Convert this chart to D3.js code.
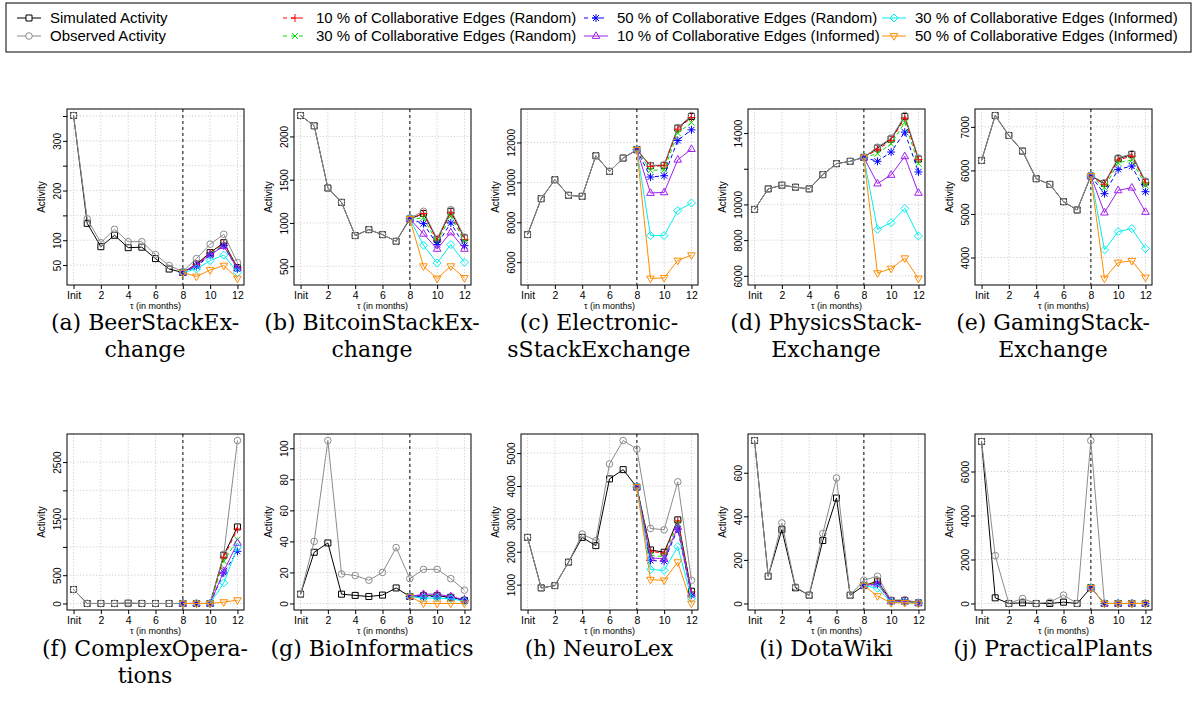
<!DOCTYPE html>
<html>
<head>
<meta charset="utf-8">
<script src="https://cdn.jsdelivr.net/npm/d3@7"></script>
<style>
  body { margin: 0; background: #fff; }
  svg { font-family: "Liberation Sans", Arial, sans-serif; }
</style>
</head>
<body>
<svg id="chart"></svg>
<script>
// ---- data ----
const captions = [
  ["(a) BeerStackEx-", "change"],
  ["(b) BitcoinStackEx-", "change"],
  ["(c) Electronic-", "sStackExchange"],
  ["(d) PhysicsStack-", "Exchange"],
  ["(e) GamingStack-", "Exchange"],
  ["(f) ComplexOpera-", "tions"],
  ["(g) BioInformatics"],
  ["(h) NeuroLex"],
  ["(i) DotaWiki"],
  ["(j) PracticalPlants"]
];

const months = [0, 1, 2, 3, 4, 5, 6, 7, 8, 9, 10, 11, 12];
const scenarioMonths = [8, 9, 10, 11, 12];
const xTicks = [0, 2, 4, 6, 8, 10, 12];
const xTickLabels = ["Init", "2", "4", "6", "8", "10", "12"];
const splitMonth = 8;

const yTicks = [
  [50, 100, 150, 200, 250, 300, 350],
  [500, 1000, 1500, 2000],
  [6000, 8000, 10000, 12000],
  [6000, 8000, 10000, 12000, 14000],
  [4000, 5000, 6000, 7000],
  [0, 500, 1000, 1500, 2000, 2500],
  [0, 20, 40, 60, 80, 100],
  [1000, 2000, 3000, 4000, 5000],
  [0, 200, 400, 600],
  [0, 2000, 4000, 6000]
];
const yTickLabels = [
  [50, 100, 200, 300],
  [500, 1000, 1500, 2000],
  [6000, 8000, 10000, 12000],
  [6000, 8000, 10000, 14000],
  [4000, 5000, 6000, 7000],
  [0, 500, 1500, 2500],
  [0, 20, 40, 60, 80, 100],
  [1000, 2000, 3000, 4000, 5000],
  [0, 200, 400, 600],
  [0, 2000, 4000, 6000]
];

const simulated = [
  [351, 134, 87, 110, 85, 86, 63, 42, 35, 52, 75, 95, 45],
  [2242, 2123, 1404, 1238, 854, 923, 865, 788, 1046, 1110, 808, 1135, 827],
  [7383, 9183, 10133, 9350, 9300, 11333, 10550, 11217, 11633, 10833, 10850, 12717, 13300],
  [9720, 10873, 11078, 10966, 10873, 11673, 12287, 12417, 12640, 13161, 13663, 14928, 12547],
  [6229, 7260, 6802, 6443, 5809, 5679, 5282, 5092, 5870, 5702, 6267, 6366, 5733],
  [247, 0, 0, 0, 5, 0, 0, 0, 0, 0, 0, 853, 1353],
  [6, 33, 39, 6, 5.2, 4.5, 5.4, 10, 4.5, 5, 5, 4, 2],
  [2437, 900, 970, 1683, 2437, 2186, 4216, 4497, 3965, 2055, 1985, 2970, 799],
  [748, 125, 339, 72, 38, 289, 484, 38, 82, 102, 14, 14, 3],
  [7363, 257, 0, 30, 0, 0, 60, 0, 711, 0, 0, 0, 0]
];
const observed = [
  [351, 143, 95, 122, 97, 97, 71, 49, 37, 63, 92, 112, 55],
  [2242, 2123, 1404, 1238, 854, 923, 865, 788, 1058, 1135, 815, 1154, 838],
  [7383, 9183, 10133, 9350, 9300, 11333, 10550, 11217, 11633, 10850, 10870, 12750, 13350],
  [9720, 10873, 11078, 10966, 10873, 11673, 12287, 12417, 12640, 13210, 13720, 14984, 12600],
  [6229, 7260, 6802, 6443, 5809, 5679, 5282, 5092, 5885, 5717, 6290, 6382, 5756],
  [247, 0, 0, 0, 5, 0, 0, 0, 0, 0, 0, 870, 2881],
  [6, 40, 105, 19, 18, 15, 20, 36, 16, 22, 22, 16, 8.6],
  [2437, 900, 970, 1683, 2538, 2337, 4668, 5382, 5121, 2709, 2668, 4126, 1131],
  [748, 125, 370, 76, 38, 321, 576, 38, 107, 125, 15, 17, 3],
  [7363, 2177, 0, 227, 0, 60, 378, 0, 7409, 0, 0, 0, 0]
];
// scenario series cover months 8..12
const random10 = [
  [35, 51, 74, 94, 45],
  [1046, 1108, 800, 1115, 808],
  [11633, 10800, 10833, 12667, 13250],
  [12640, 13068, 13589, 14835, 12510],
  [5870, 5679, 6237, 6328, 5718],
  [0, 0, 0, 817, 1317],
  [4.5, 5.5, 5.5, 4.5, 2.2],
  [3965, 2015, 1955, 2940, 779],
  [82, 100, 12, 12, 2],
  [711, 0, 0, 0, 0]
];
const random30 = [
  [35, 49, 72, 91, 43],
  [1046, 1058, 777, 1077, 788],
  [11633, 10600, 10633, 12467, 13000],
  [12640, 12845, 13403, 14593, 12287],
  [5870, 5603, 6176, 6237, 5657],
  [0, 0, 0, 747, 1129],
  [4.5, 5, 5, 4, 2],
  [3965, 1884, 1854, 2859, 729],
  [82, 95, 11, 10, 2],
  [711, 0, 0, 0, 0]
];
const random50 = [
  [35, 47, 70, 89, 42],
  [1046, 992, 750, 1000, 738],
  [11633, 10267, 10333, 12100, 12633],
  [12640, 12417, 12938, 14054, 11822],
  [5870, 5466, 6023, 6099, 5511],
  [0, 0, 0, 541, 923],
  [4.5, 4.5, 4.5, 3.8, 2],
  [3965, 1734, 1714, 2688, 678],
  [82, 88, 10, 9, 2],
  [711, 0, 0, 0, 0]
];
const informed10 = [
  [35, 50, 71, 88, 43],
  [1046, 875, 700, 890, 700],
  [11633, 9467, 9500, 11133, 11667],
  [12640, 11171, 11654, 12696, 10650],
  [5870, 5031, 5542, 5603, 5046],
  [0, 0, 0, 570, 1070],
  [4.5, 6, 6, 4.5, 2.5],
  [3965, 1814, 1784, 2739, 698],
  [82, 90, 10, 9, 2],
  [711, 0, 0, 0, 0]
];
const informed30 = [
  [35, 42, 59, 70, 35],
  [1046, 742, 538, 750, 546],
  [11633, 7333, 7333, 8583, 8967],
  [12640, 8604, 8976, 9776, 8232],
  [5870, 4176, 4595, 4664, 4206],
  [0, 0, 0, 365, 994],
  [4.5, 3.5, 3.5, 3, 1.5],
  [3965, 1462, 1432, 2156, 578],
  [82, 70, 6, 5, 1],
  [711, 0, 0, 0, 0]
];
const informed50 = [
  [35, 27, 40, 49, 23],
  [1046, 500, 358, 500, 365],
  [11633, 5183, 5217, 6083, 6350],
  [12640, 6149, 6409, 6986, 5851],
  [5870, 3519, 3885, 3924, 3542],
  [0, 0, 0, 24, 59],
  [4.5, 0, 0, 0, 0],
  [3965, 1151, 1131, 1683, 427],
  [82, 34, 3, 3, 0],
  [711, 0, 0, 0, 0]
];

// series styling, in legend order
const series = [
  { name: "Simulated Activity", data: simulated, x: months, color: "#000000", shape: "square", dashed: false },
  { name: "Observed Activity", data: observed, x: months, color: "#8c8c8c", shape: "circle", dashed: false },
  { name: "10 % of Collaborative Edges (Random)", data: random10, x: scenarioMonths, color: "#ff0000", shape: "plus", dashed: true },
  { name: "30 % of Collaborative Edges (Random)", data: random30, x: scenarioMonths, color: "#00e000", shape: "cross", dashed: true },
  { name: "50 % of Collaborative Edges (Random)", data: random50, x: scenarioMonths, color: "#0000ff", shape: "star", dashed: true },
  { name: "10 % of Collaborative Edges (Informed)", data: informed10, x: scenarioMonths, color: "#a020f0", shape: "triUp", dashed: false },
  { name: "30 % of Collaborative Edges (Informed)", data: informed30, x: scenarioMonths, color: "#00f0f0", shape: "diamond", dashed: false },
  { name: "50 % of Collaborative Edges (Informed)", data: informed50, x: scenarioMonths, color: "#ff8c00", shape: "triDown", dashed: false }
];

// ---- layout ----
const W = 1195, H = 720;
const plotW = 177, plotH = 176;
const colStep = 227, firstLeft = 67;
const rowTops = [109, 434];

const svg = d3.select("#chart").attr("width", W).attr("height", H);

function markerPath(shape) {
  switch (shape) {
    case "square": return "M-3,-3H3V3H-3Z";
    case "circle": return "M-3.3,0A3.3,3.3 0 1,0 3.3,0A3.3,3.3 0 1,0 -3.3,0Z";
    case "plus": return "M-4,0H4M0,-4V4";
    case "cross": return "M-3,-3L3,3M-3,3L3,-3";
    case "star": return "M-4,0H4M0,-4V4M-3,-3L3,3M-3,3L3,-3";
    case "triUp": return "M0,-4.2L3.8,2.4H-3.8Z";
    case "triDown": return "M0,4.2L3.8,-2.4H-3.8Z";
    case "diamond": return "M0,-4L4,0L0,4L-4,0Z";
  }
}

// ---- legend ----
const legend = svg.append("g");
legend.append("rect")
  .attr("x", 6).attr("y", 3)
  .attr("width", 1185).attr("height", 49)
  .attr("fill", "none").attr("stroke", "#000").attr("stroke-width", 1);

const legendTextX = [50, 316, 617, 915];
const legendRowY = [18, 36];
series.forEach((s, i) => {
  const tx = legendTextX[Math.floor(i / 2)];
  const cx = tx - 21;
  const cy = legendRowY[i % 2];
  const g = legend.append("g");
  g.append("line")
    .attr("x1", cx - 12).attr("x2", cx + 12)
    .attr("y1", cy).attr("y2", cy)
    .attr("stroke", s.color).attr("stroke-width", 1)
    .attr("stroke-dasharray", s.dashed ? "4,4" : null)
    .attr("stroke-dashoffset", s.dashed ? 0 : null);
  g.append("path")
    .attr("d", markerPath(s.shape))
    .attr("transform", `translate(${cx},${cy})`)
    .attr("fill", s.shape == "square" || s.shape == "circle" ? "#fff" : "none")
    .attr("stroke", s.color).attr("stroke-width", 1);
  g.append("text")
    .attr("x", tx).attr("y", cy)
    .attr("dy", "0.35em")
    .style("font-size", "15px")
    .text(s.name);
});

// ---- panels ----
const x0 = d3.scaleLinear().domain([-0.48, 12.48]);

captions.forEach((cap, p) => {
  const col = p % 5, row = Math.floor(p / 5);
  const left = firstLeft + col * colStep;
  const top = rowTops[row];

  const g = svg.append("g").attr("transform", `translate(${left},${top})`);

  const allVals = series.flatMap(s => s.data[p]);
  const [lo, hi] = d3.extent(allVals);
  const pad = (hi - lo) * 0.04;

  const x = x0.copy().range([0, plotW]);
  const y = d3.scaleLinear().domain([lo - pad, hi + pad]).range([plotH, 0]);

  // grid
  g.selectAll(".vgrid")
    .data(xTicks)
    .join("line")
      .attr("x1", d => x(d)).attr("x2", d => x(d))
      .attr("y1", 0).attr("y2", plotH)
      .attr("stroke", "#cfcfcf").attr("stroke-dasharray", "1.2,2");
  g.selectAll(".hgrid")
    .data(yTicks[p])
    .join("line")
      .attr("x1", 0).attr("x2", plotW)
      .attr("y1", d => y(d)).attr("y2", d => y(d))
      .attr("stroke", "#cfcfcf").attr("stroke-dasharray", "1.2,2");

  // split marker
  g.append("line")
    .attr("x1", x(splitMonth)).attr("x2", x(splitMonth))
    .attr("y1", 0).attr("y2", plotH)
    .attr("stroke", "#555").attr("stroke-width", 1.5)
    .attr("stroke-dasharray", "3,3");

  // axes
  const xAxis = d3.axisBottom(x).tickValues(xTicks)
    .tickFormat((d, i) => xTickLabels[i]).tickSize(4).tickPadding(3);
  const xg = g.append("g").attr("transform", `translate(0,${plotH})`).call(xAxis);
  xg.select(".domain").remove();
  xg.selectAll("text").style("font-size", "10.5px").attr("fill", "#000")
    .attr("font-family", "Liberation Sans, Arial, sans-serif");

  const labelSet = yTickLabels[p];
  const yAxis = d3.axisLeft(y).tickValues(yTicks[p])
    .tickFormat(d => labelSet.includes(d) ? d : "").tickSize(4);
  const yg = g.append("g").call(yAxis);
  yg.select(".domain").remove();
  yg.selectAll("text")
    .attr("x", 0).attr("y", -6.5).attr("dy", null)
    .attr("text-anchor", "middle")
    .attr("transform", "rotate(-90)")
    .style("font-size", "10px").attr("fill", "#000")
    .attr("font-family", "Liberation Sans, Arial, sans-serif");

  g.append("text")
    .attr("transform", `translate(-22,${plotH / 2}) rotate(-90)`)
    .attr("text-anchor", "middle")
    .style("font-size", "10px")
    .text("Activity");

  g.append("text")
    .attr("x", plotW / 2).attr("y", plotH + 24)
    .attr("text-anchor", "middle")
    .style("font-size", "9px")
    .text("\u03c4 (in months)");

  // lines and markers
  series.forEach(s => {
    const pts = s.data[p].map((v, i) => [s.x[i], v]);
    g.append("path")
      .datum(pts)
      .attr("fill", "none")
      .attr("stroke", s.color).attr("stroke-width", 1)
      .attr("stroke-dasharray", s.dashed ? "4,3" : null)
      .attr("d", d3.line().x(d => x(d[0])).y(d => y(d[1])));
    g.selectAll(null)
      .data(pts)
      .join("path")
        .attr("d", markerPath(s.shape))
        .attr("transform", d => `translate(${x(d[0])},${y(d[1])})`)
        .attr("fill", "none")
        .attr("stroke", s.color).attr("stroke-width", 1);
  });

  // frame
  g.append("rect")
    .attr("width", plotW).attr("height", plotH)
    .attr("fill", "none").attr("stroke", "#000").attr("stroke-width", 1);

  // caption
  const capY = row == 0 ? 322 : 648;
  cap.forEach((line, li) => {
    svg.append("text")
      .attr("x", 145 + col * colStep)
      .attr("y", capY + li * 27)
      .attr("dy", "0.35em")
      .attr("text-anchor", "middle")
      .style("font-family", "'DejaVu Serif', serif")
      .style("font-size", "22px")
      .text(line);
  });
});
</script>
</body>
</html>
